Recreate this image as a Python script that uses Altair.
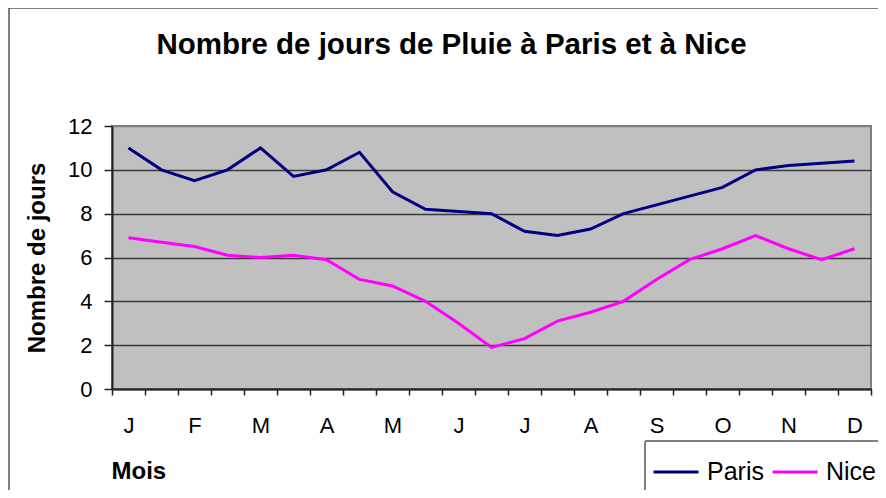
import altair as alt
import pandas as pd
import json

months = ["J", "F", "M", "A", "M", "J", "J", "A", "S", "O", "N", "D"]
paris = [11.0, 10.0, 9.5, 10.0, 11.0, 9.7, 10.0, 10.8, 9.0, 8.2, 8.1, 8.0,
         7.2, 7.0, 7.3, 8.0, 8.4, 8.8, 9.2, 10.0, 10.2, 10.3, 10.4]
nice = [6.9, 6.7, 6.5, 6.1, 6.0, 6.1, 5.9, 5.0, 4.7, 4.0, 3.0, 1.9,
        2.3, 3.1, 3.5, 4.0, 5.0, 5.9, 6.4, 7.0, 6.4, 5.9, 6.4]
series = ["Paris", "Nice"]
colors = ["#000080", "#FF00FF"]
y_ticks = [0, 2, 4, 6, 8, 10, 12]
title_text = "Nombre de jours de Pluie à Paris et à Nice"

rows = []
for name, vals in zip(series, [paris, nice]):
    for i, v in enumerate(vals):
        rows.append({"idx": i, "value": v, "series": name})
df = pd.DataFrame(rows)
one = pd.DataFrame({"t": [title_text]})

FONT = "Liberation Sans"
label_expr = "datum.value % 2 == 0 ? " + json.dumps(months) + "[datum.value / 2] : ''"

W, H = 759, 263
PAD = {"left": 104, "top": 118, "right": 7, "bottom": 101}
RIGHT = W + PAD["right"]
BOTTOM = H + PAD["bottom"]

lines = alt.Chart(df).mark_line(strokeWidth=3).encode(
    x=alt.X(
        "idx:O",
        scale=alt.Scale(paddingInner=0, paddingOuter=0),
        axis=alt.Axis(
            title="Mois", titleFontSize=24, titleFontWeight="bold", titleFont=FONT,
            titleX=-1, titleY=89, titleAlign="left", titleBaseline="alphabetic",
            labelAngle=0, labelFontSize=22, labelFont=FONT, labelPadding=20,
            labelColor="black", labelExpr=label_expr,
            tickSize=6, tickBand="extent", tickColor="#222222", tickWidth=1.5,
            domainColor="#222222", domainWidth=2, grid=False,
        ),
    ),
    y=alt.Y(
        "value:Q",
        scale=alt.Scale(domain=[0, 12], nice=False),
        axis=alt.Axis(
            values=y_ticks, title="Nombre de jours", titleFontSize=24,
            titleFontWeight="bold", titleFont=FONT, titleX=-68, titleY=131.5,
            titleBaseline="alphabetic", titleAngle=-90,
            labelFontSize=22, labelFont=FONT, labelPadding=12, labelColor="black",
            tickSize=8, tickColor="#222222", tickWidth=1.5,
            domainColor="#222222", domainWidth=2,
            grid=True, gridWidth=1.5,
            gridColor=alt.condition("datum.value >= 12", alt.value("#808080"), alt.value("#3a3a3a")),
        ),
    ),
    color=alt.Color(
        "series:N",
        scale=alt.Scale(domain=series, range=colors),
        sort=series,
        legend=alt.Legend(
            title=None, orient="none", legendX=540, legendY=322, direction="horizontal",
            symbolType="stroke", symbolSize=2025, symbolStrokeWidth=3,
            labelFontSize=25, labelFont=FONT, labelColor="black", labelOffset=7,
            columnPadding=2, padding=0,
        ),
    ),
    order="idx:O",
)

base = alt.Chart(one)
# outer frame (left and top edges visible)
frame_left = base.mark_rule(color="black", strokeWidth=1).encode(
    x=alt.value(-103), y=alt.value(-118), y2=alt.value(BOTTOM)
)
frame_top = base.mark_rule(color="black", strokeWidth=1).encode(
    x=alt.value(-103), x2=alt.value(RIGHT), y=alt.value(-118)
)
# legend box (left and top edges visible)
leg_left = base.mark_rule(color="#808080", strokeWidth=2).encode(
    x=alt.value(533), y=alt.value(315), y2=alt.value(BOTTOM)
)
leg_top = base.mark_rule(color="#808080", strokeWidth=2).encode(
    x=alt.value(533), x2=alt.value(RIGHT), y=alt.value(315)
)
title = base.mark_text(
    fontSize=29.5, fontWeight="bold", font=FONT, color="black",
    align="center", baseline="alphabetic",
).encode(x=alt.value(339.5), y=alt.value(-72), text="t:N")

chart = alt.layer(lines, leg_left, leg_top, frame_left, frame_top, title).properties(
    width=W, height=H,
    autosize=alt.AutoSizeParams(type="none"),
    padding=PAD,
    background="white",
).configure_view(fill="#C0C0C0", stroke="#808080", strokeWidth=2)

chart.save("out.html", embed_options={"renderer": "svg", "actions": False})
